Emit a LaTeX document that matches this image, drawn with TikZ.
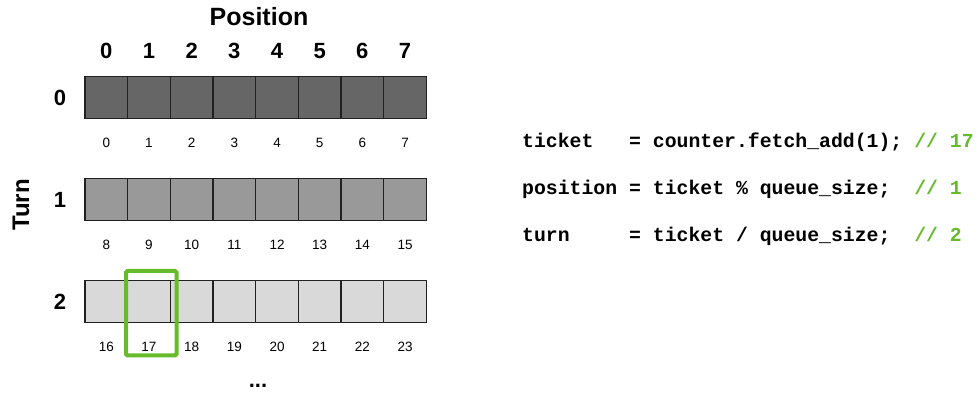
\documentclass[tikz,border=0pt]{standalone}
\usepackage{fontspec}
\setmainfont{Liberation Sans}
\newfontfamily\codefont{Liberation Mono}
\usepackage{xcolor}
\definecolor{rowdark}{gray}{0.40}
\definecolor{rowmid}{gray}{0.60}
\definecolor{rowlight}{gray}{0.85}
\definecolor{cellline}{gray}{0.13}
\definecolor{pickgreen}{RGB}{102,187,42}

\tikzset{
  cell/.style={draw=cellline,line width=1.3pt,minimum width=42.67pt,
    minimum height=41.5pt,inner sep=0pt,outer sep=0pt},
  ticketnum/.style={font=\fontsize{13.5}{15}\selectfont},
  head/.style={font=\bfseries\fontsize{22}{26}\selectfont},
  codeline/.style={anchor=base west,inner sep=0pt,
    font=\codefont\bfseries\fontsize{19.8}{22}\selectfont},
  pick/.style={draw=pickgreen,line width=4pt,rounded corners=1.5pt,
    inner sep=0pt}
}

\begin{document}
\begin{tikzpicture}[x=1pt,y=1pt]
  \useasboundingbox (0,0) rectangle (977,395);
  \fill[white] (0,0) rectangle (977,395);

  \node[head,font=\bfseries\fontsize{25}{28}\selectfont] (position) at (259,378) {Position};
  \node[head,font=\bfseries\fontsize{24}{28}\selectfont,rotate=90] (turn) at (21,190) {Turn};

  \foreach \c in {0,...,7} {
    \node[head] (p\c) at ({106.33+42.67*\c},344) {\c};
  }

  \foreach \r/\shade in {0/rowdark,1/rowmid,2/rowlight} {
    \node[head] (t\r) at (60,{297.5-102*\r}) {\r};
    \foreach \c in {0,...,7} {
      \node[cell,fill=\shade] (c\r\c) at ({106.33+42.67*\c},{297.5-102*\r}) {};
      \pgfmathtruncatemacro\n{8*\r+\c}
      \node[ticketnum] (n\r\c) at ([yshift=-45.5pt]c\r\c.center) {\n};
    }
  }

  \node[pick,minimum width=50.5pt,minimum height=84.5pt] (pick) at (151.25,81.75) {};

  \node[head,anchor=base] (more) at (258,7) {...};

  \node[codeline] (ticket) at (522,247.5)
    {ticket\ \ \ = counter.fetch\_add(1); {\color{pickgreen}// 17}};
  \node[codeline] (pos) at (522,200)
    {position = ticket \% queue\_size;\ \ {\color{pickgreen}// 1}};
  \node[codeline] (turnline) at (522,153.3)
    {turn\ \ \ \ \ = ticket / queue\_size;\ \ {\color{pickgreen}// 2}};
\end{tikzpicture}
\end{document}
